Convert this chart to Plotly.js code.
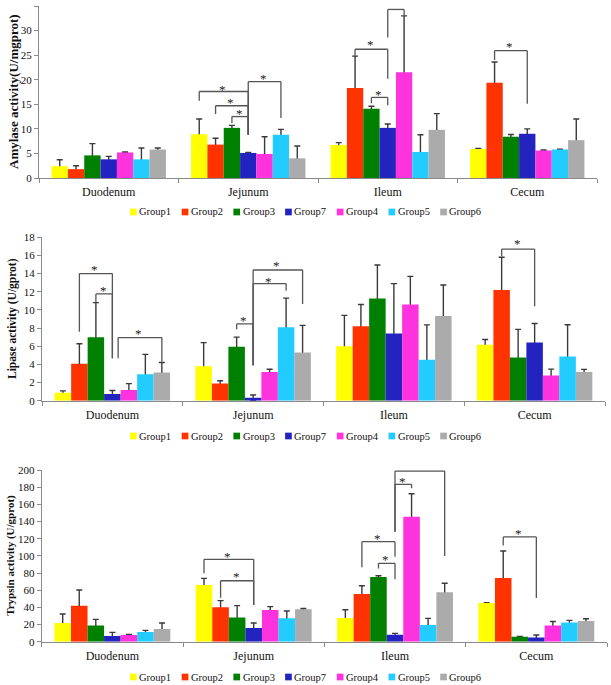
<!DOCTYPE html>
<html><head><meta charset="utf-8">
<script src="https://cdn.plot.ly/plotly-3.0.1.min.js"></script>
<style>html,body{margin:0;padding:0;background:#fff}#chart{width:611px;height:685px}</style>
</head><body><div id="chart"></div>
<script>
// ---------- data ----------
const categories = ['Duodenum', 'Jejunum', 'Ileum', 'Cecum'];
const groups = ['Group1', 'Group2', 'Group3', 'Group7', 'Group4', 'Group5', 'Group6'];
const groupColors = ['#FFFF00', '#FF3300', '#008000', '#2323C0', '#FF33DD', '#22CCFF', '#ABABAB'];

// rows follow the order of `groups`, columns follow `categories`
const amylaseMean = [
  [2.4, 8.9, 6.7, 5.9],
  [1.8, 6.8, 18.3, 19.4],
  [4.6, 10.2, 14.1, 8.4],
  [3.8, 5.1, 10.2, 9.0],
  [5.2, 4.9, 21.5, 5.6],
  [3.8, 8.8, 5.3, 5.8],
  [5.8, 4.0, 9.8, 7.7]
];
const amylaseSD = [
  [1.3, 3.1, 0.5, 0.1],
  [0.7, 1.3, 6.5, 4.2],
  [2.4, 0.5, 0.5, 0.45],
  [0.6, 0.1, 0.8, 1.0],
  [0.1, 3.5, 11.5, 0.1],
  [2.3, 1.1, 3.5, 0.05],
  [0.3, 2.5, 3.3, 4.3]
];
const lipaseMean = [
  [0.88, 3.8, 6.0, 6.15],
  [4.08, 1.9, 8.2, 12.2],
  [7.0, 5.95, 11.25, 4.76],
  [0.73, 0.33, 7.4, 6.4],
  [1.18, 3.16, 10.6, 2.78],
  [2.9, 8.1, 4.5, 4.87],
  [3.1, 5.3, 9.34, 3.15]
];
const lipaseSD = [
  [0.2, 2.6, 3.4, 0.6],
  [2.2, 0.3, 2.4, 3.6],
  [3.8, 1.05, 3.7, 3.1],
  [0.4, 0.3, 5.5, 2.1],
  [0.7, 0.3, 3.1, 0.7],
  [2.2, 3.2, 3.85, 3.5],
  [1.1, 3.0, 3.4, 0.3]
];
const trypsinMean = [
  [21.7, 66.0, 27.6, 45.0],
  [41.9, 40.0, 55.5, 74.2],
  [19.0, 28.3, 75.3, 5.8],
  [6.6, 15.9, 8.2, 5.0],
  [7.8, 36.9, 145.6, 19.0],
  [11.3, 27.2, 19.4, 22.5],
  [14.8, 37.7, 57.5, 24.0]
];
const trypsinSD = [
  [10.5, 7.8, 9.7, 0.5],
  [18.3, 7.8, 9.7, 31.4],
  [7.0, 13.7, 1.6, 0.4],
  [4.3, 5.8, 1.5, 2.8],
  [0.7, 3.9, 26.8, 4.6],
  [1.9, 8.5, 7.8, 2.3],
  [6.9, 1.1, 10.5, 2.7]
];

// significance brackets: [category, fromGroupSlot, toGroupSlot, top, leftLegEnd, rightLegEnd, starLevel]
const amylaseBrackets = [
  [1, 0, 3, 17.6, 15.7, 8.8, 18.5],
  [1, 1, 3, 14.7, 13.0, 8.8, 15.8],
  [1, 2, 3, 12.5, 11.2, 8.8, 13.5],
  [1, 3, 5, 19.6, 8.8, 12.2, 20.7],
  [2, 1, 3, 26.2, 24.8, 20.2, 27.5],
  [2, 2, 3, 16.4, 15.2, 14.8, 17.5],
  [2, 3, 4, 34.3, 28.6, 33.0, 35.4],
  [3, 1, 3, 25.9, 24.0, 15.1, 27.1]
];
const lipaseBrackets = [
  [0, 1, 3, 14.0, 7.6, 4.67, 14.7],
  [0, 2, 3, 11.76, 10.9, 4.67, 12.4],
  [0, 3.35, 6, 6.95, 4.67, 4.3, 7.6],
  [1, 2, 3, 8.46, 7.87, 3.9, 9.05],
  [1, 3, 5, 12.9, 3.9, 12.1, 13.4],
  [1, 3, 6, 14.4, 3.9, 10.66, 15.1],
  [3, 1, 3, 16.7, 15.9, 10.4, 17.5]
];
const trypsinBrackets = [
  [1, 0, 3, 95.9, 79.6, 42.7, 101.7],
  [1, 1, 3, 71.0, 51.3, 42.7, 77.7],
  [2, 1, 3, 116.5, 86.6, 99.0, 123.0],
  [2, 2, 3, 91.3, 85.4, 72.6, 97.9],
  [2, 3, 6, 198.8, 128.2, 99.8, 204.7],
  [2, 3, 4, 183.3, 128.2, 178.6, 189.5],
  [3, 1, 3, 122.0, 112.0, 50.8, 128.0]
];

const yTitles = ['Amylase activity(U/mgprot)', 'Lipase activity (U/gprot)', 'Trypsin activity (U/gprot)'];
const yRanges = [[0, 35], [0, 18], [0, 200]];
const yDticks = [5, 2, 20];

// ---------- layout geometry ----------
const W = 611, H = 685;
const SERIF = 'Liberation Serif';
const BARGAP = 0.18;
const panelBoxes = [ // pixel boxes: left, right, top, bottom, legendY, titleX, titleSize
  {l: 39, r: 597, t: 6, b: 178, legY: 212, tx: 13, ts: 13},
  {l: 42, r: 605, t: 237.3, b: 400.7, legY: 436, tx: 13, ts: 11.5},
  {l: 41.7, r: 607, t: 470, b: 641.7, legY: 677, tx: 11, ts: 11}
];
const panelData = [
  {mean: amylaseMean, sd: amylaseSD, br: amylaseBrackets},
  {mean: lipaseMean, sd: lipaseSD, br: lipaseBrackets},
  {mean: trypsinMean, sd: trypsinSD, br: trypsinBrackets}
];

function slotX(cat, slot) {
  const w = (1 - BARGAP) / groups.length;
  return cat - 0.5 + BARGAP / 2 + w * (slot + 0.5);
}

const traces = [];
const shapes = [];
const annotations = [];
const layout = {
  width: W, height: H,
  margin: {l: 0, r: 0, t: 0, b: 0},
  paper_bgcolor: '#fff', plot_bgcolor: '#fff',
  barmode: 'group', bargap: BARGAP, bargroupgap: 0,
  showlegend: false,
  font: {family: SERIF, color: '#111'}
};

panelBoxes.forEach((bx, p) => {
  const sfx = p === 0 ? '' : String(p + 1);
  const xa = 'x' + sfx, ya = 'y' + sfx;
  const d = panelData[p];
  layout['xaxis' + sfx] = {
    domain: [bx.l / W, bx.r / W], anchor: ya, type: 'category',
    range: [-0.5, categories.length - 0.5],
    showline: true, linecolor: '#8a8a8a', linewidth: 1,
    ticks: 'outside', tickson: 'boundaries', ticklen: 4, tickcolor: '#8a8a8a', tickwidth: 1,
    ticklabelstandoff: 3,
    tickfont: {family: SERIF, size: 12, color: '#111'},
    showgrid: false, zeroline: false, fixedrange: true
  };
  layout['yaxis' + sfx] = {
    domain: [1 - bx.b / H, 1 - bx.t / H], anchor: xa,
    range: yRanges[p], dtick: yDticks[p], tick0: 0,
    showline: true, linecolor: '#8a8a8a', linewidth: 1,
    ticks: 'outside', ticklen: 4, tickcolor: '#8a8a8a', tickwidth: 1,
    tickfont: {family: SERIF, size: 11, color: '#111'},
    showgrid: false, zeroline: false, fixedrange: true
  };
  // y title
  annotations.push({
    xref: 'paper', yref: 'paper', x: bx.tx / W, y: 1 - (bx.t + bx.b) / 2 / H,
    xanchor: 'center', yanchor: 'middle', textangle: -90, showarrow: false,
    text: '<b>' + yTitles[p] + '</b>', font: {family: SERIF, size: bx.ts, color: '#111'}
  });
  // bars: error-bar carrier first, then covering coloured bars
  groups.forEach((g, i) => {
    traces.push({
      type: 'bar', x: categories, y: d.mean[i], xaxis: xa, yaxis: ya,
      offsetgroup: g, name: g, showlegend: false, hoverinfo: 'skip',
      marker: {color: 'rgba(0,0,0,0)', line: {width: 0}},
      error_y: {type: 'data', array: d.sd[i], symmetric: true, visible: true,
                color: '#3a3a3a', thickness: 1.4, width: 3}
    });
  });
  groups.forEach((g, i) => {
    traces.push({
      type: 'bar', x: categories, y: d.mean[i], xaxis: xa, yaxis: ya,
      offsetgroup: g, name: g, showlegend: false,
      marker: {color: groupColors[i], line: {width: 0}}
    });
  });
  // brackets
  d.br.forEach(b => {
    const [cat, s0, s1, top, lEnd, rEnd, star] = b;
    const x0 = slotX(cat, s0), x1 = slotX(cat, s1);
    const ln = {color: '#555', width: 1.3};
    shapes.push({type: 'line', xref: xa, yref: ya, x0: x0, x1: x0, y0: lEnd, y1: top, line: ln});
    shapes.push({type: 'line', xref: xa, yref: ya, x0: x0, x1: x1, y0: top, y1: top, line: ln});
    shapes.push({type: 'line', xref: xa, yref: ya, x0: x1, x1: x1, y0: top, y1: rEnd, line: ln});
    annotations.push({
      xref: xa, yref: ya, x: (x0 + x1) / 2, y: star, xanchor: 'center', yanchor: 'middle',
      showarrow: false, text: '*', xshift: -1, yshift: -2,
      font: {family: SERIF, size: 13, color: '#222222'}
    });
  });
  // legend (manual, compact like the reference)
  const step = 51.7, sq = 6.7, lx0 = 130;
  groups.forEach((g, i) => {
    const x = lx0 + i * step;
    shapes.push({type: 'rect', xref: 'paper', yref: 'paper',
      x0: x / W, x1: (x + sq) / W, y0: 1 - (bx.legY + sq / 2) / H, y1: 1 - (bx.legY - sq / 2) / H,
      fillcolor: groupColors[i], line: {width: 0}});
    annotations.push({
      xref: 'paper', yref: 'paper', x: (x + sq + 0.5) / W, y: 1 - bx.legY / H,
      xanchor: 'left', yanchor: 'middle', showarrow: false, text: g,
      font: {family: SERIF, size: 10.5, color: '#111'}
    });
  });
});

layout.shapes = shapes;
layout.annotations = annotations;
Plotly.newPlot('chart', traces, layout, {staticPlot: true, displayModeBar: false});
</script>
</body></html>
